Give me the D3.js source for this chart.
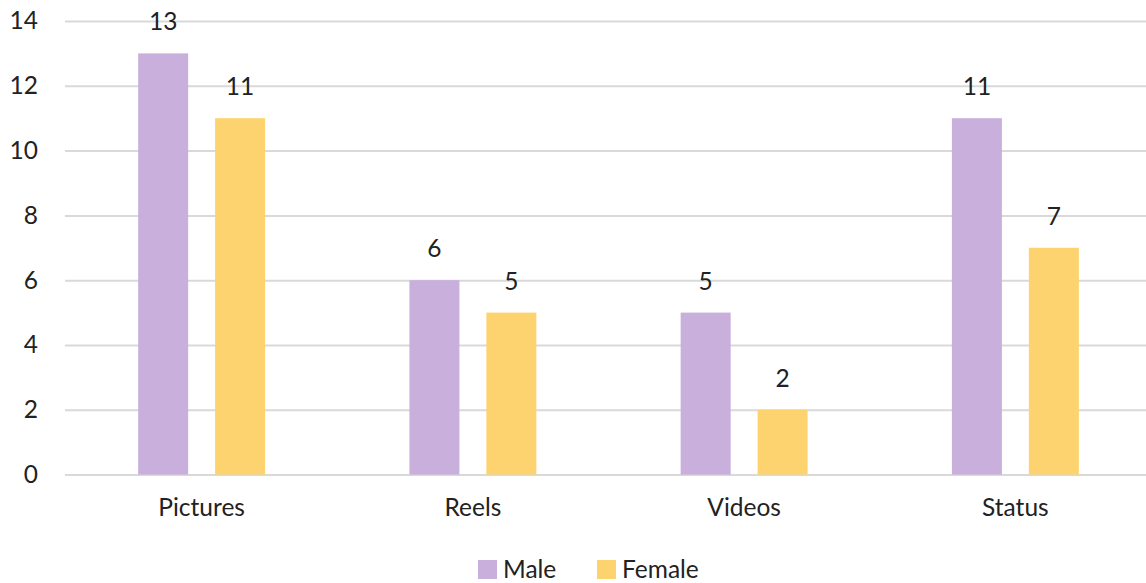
<!DOCTYPE html>
<html>
<head>
<meta charset="utf-8">
<script src="https://cdn.jsdelivr.net/npm/d3@7"></script>
<style>
  html, body { margin: 0; padding: 0; background: #fff; }
  svg { display: block; font-family: Lato, "Noto Sans", sans-serif; }
</style>
</head>
<body>
<svg id="chart" width="1146" height="583"></svg>
<script>
// Posting activity by content type, split by gender
const categories = ["Pictures", "Reels", "Videos", "Status"];
const seriesNames = ["Male", "Female"];
const maleValues = [13, 6, 5, 11];
const femaleValues = [11, 5, 2, 7];
const yTicks = [0, 2, 4, 6, 8, 10, 12, 14];
const colors = { Male: "#C9AFDC", Female: "#FDD36F" };

const rows = categories.map((c, i) => ({ category: c, Male: maleValues[i], Female: femaleValues[i] }));

const svg = d3.select("#chart");
const plotLeft = 66, plotRight = 1151, plotTop = 21, plotBottom = 474.6;
const fontSize = "24.5px";
const textColor = "#222";

const y = d3.scaleLinear().domain([0, 14]).range([plotBottom, plotTop]);
const x0 = d3.scaleBand().domain(categories).range([plotLeft, plotRight]).paddingInner(0.532).paddingOuter(0.266);
const x1 = d3.scaleBand().domain(seriesNames).range([0, x0.bandwidth()]).paddingInner(0.35).paddingOuter(0);

// Gridlines and y tick labels
const yAxis = d3.axisLeft(y).tickValues(yTicks).tickSize(-(1146 - 65)).tickPadding(27);
const gy = svg.append("g").attr("transform", "translate(65,0)").call(yAxis);
gy.select(".domain").remove();
gy.selectAll(".tick line").attr("stroke", "#D9D9D9").attr("stroke-width", 2);
gy.selectAll(".tick text").attr("fill", textColor).style("font-size", fontSize).style("font-family", "Lato, sans-serif");

// Bars
const groups = svg.append("g").selectAll("g").data(rows).join("g")
  .attr("transform", d => `translate(${x0(d.category)},0)`);

groups.selectAll("rect").data(d => seriesNames.map(k => ({ key: k, value: d[k] }))).join("rect")
  .attr("x", d => x1(d.key))
  .attr("y", d => y(d.value))
  .attr("width", x1.bandwidth())
  .attr("height", d => y(0) - y(d.value))
  .attr("fill", d => colors[d.key]);

// Value labels
groups.selectAll("text.val").data(d => seriesNames.map(k => ({ key: k, value: d[k] }))).join("text")
  .attr("class", "val")
  .attr("x", d => x1(d.key) + x1.bandwidth() / 2)
  .attr("y", d => y(d.value) - 23)
  .attr("text-anchor", "middle")
  .attr("fill", textColor)
  .style("font-size", fontSize)
  .text(d => d.value);

// Category axis
const xAxis = d3.axisBottom(x0).tickSize(0).tickPadding(24);
const gx = svg.append("g").attr("transform", `translate(0,${plotBottom})`).call(xAxis);
gx.select(".domain").remove();
gx.selectAll(".tick text").attr("fill", textColor).style("font-size", fontSize).style("font-family", "Lato, sans-serif");

// Legend
const legend = svg.append("g").attr("transform", "translate(478,560)");
const legendX = { Male: 0, Female: 119 };
seriesNames.forEach(k => {
  const g = legend.append("g").attr("transform", `translate(${legendX[k]},0)`);
  g.append("rect").attr("width", 19).attr("height", 19).attr("fill", colors[k]);
  g.append("text").attr("x", 25).attr("y", 17.7).attr("fill", textColor).style("font-size", fontSize).text(k);
});
</script>
</body>
</html>
